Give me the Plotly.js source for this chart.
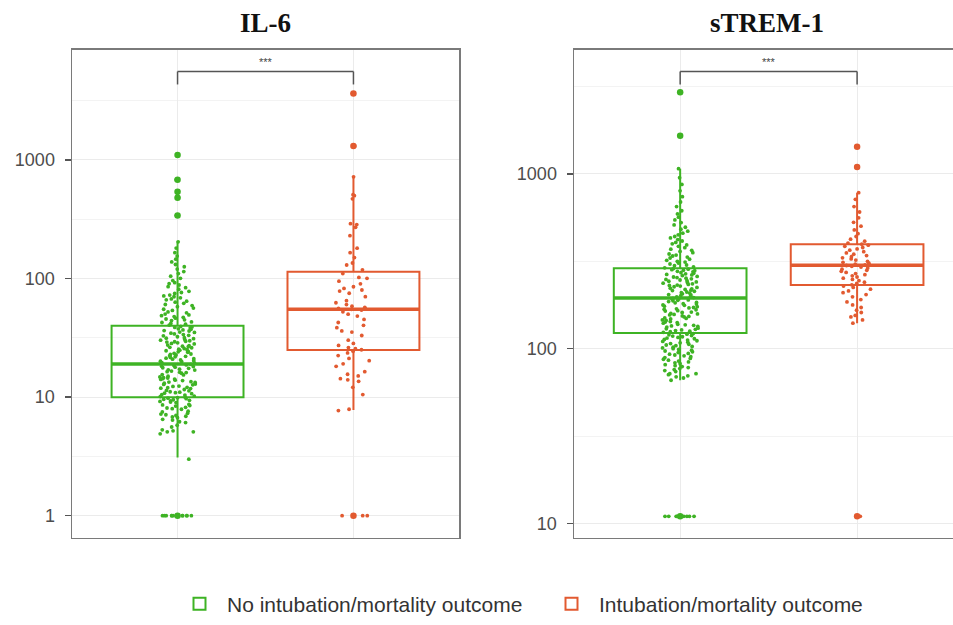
<!DOCTYPE html>
<html>
<head>
<meta charset="utf-8">
<script src="https://cdn.plot.ly/plotly-3.0.1.min.js"></script>
<style>html,body{margin:0;padding:0;background:#fff;}#chart{width:953px;height:625px;}</style>
</head>
<body>
<div id="chart"></div>
<script>
// ---------- data ----------
const groupNames = ["No intubation/mortality outcome", "Intubation/mortality outcome"];
const panelTitles = ["IL-6", "sTREM-1"];
const groupPos = [1, 2];

// IL-6 sample values
const il6No = [
 1,1,1,1,1,1,1,1,1,1,1,1,
 3.0,
 4.9,5.1,5.1,5.3,5.2,5.6,5.8,6.1,6.2,6.5,6.4,6.7,6.9,6.8,7.1,7.0,7.3,7.2,7.6,7.5,7.9,8.0,8.2,8.1,8.4,8.5,8.7,8.6,9.0,9.2,9.1,9.4,9.3,9.6,9.5,9.8,9.7,9.9,
 10.0,10.2,10.1,10.5,10.4,10.7,10.9,10.8,11.1,11.0,11.3,11.6,11.4,11.8,11.9,12.1,12.0,12.4,12.3,12.7,12.9,12.8,13.1,13.3,13.5,13.4,13.8,13.9,14.1,14.3,14.2,14.5,14.8,14.6,15.0,15.4,15.5,15.9,16.1,16.2,16.4,16.6,16.9,17.0,17.2,17.5,17.7,17.9,18.1,18.2,18.5,18.7,18.9,
 19.3,19.5,19.9,20.1,20.3,20.6,20.9,21.1,21.3,21.6,21.9,22.1,22.3,22.7,22.9,23.1,23.4,23.9,24.1,24.3,24.6,24.9,25.1,25.4,25.7,26.1,26.3,26.6,26.9,27.2,27.5,28.1,28.4,28.7,29.1,29.3,29.6,29.9,30.2,30.6,31.1,31.4,31.7,32.3,32.9,33.2,33.7,34.1,34.6,35.1,35.4,36.1,36.4,36.9,37.3,37.7,38.3,38.7,39.1,39.5,
 40.5,41.2,41.8,42.6,43.1,44.2,44.9,45.6,46.3,47.1,47.8,48.6,49.3,50.2,51.4,52.3,53.8,55.1,56.4,57.9,59.2,60.4,61.8,63.2,64.5,66.1,67.3,68.8,70.2,71.4,72.6,74.8,76.3,78.1,81.2,83.7,85.4,88.2,90.6,92.3,96.1,100.5,104.8,110.2,114.6,120.3,125.8,131.4,138.2,145.6,154.8,165.3,180.6,204.0,
 340,480,500,545,680,1100
];
const il6Yes = [
 1,1,1,
 7.7,7.9,10.5,12.1,13.6,14.0,14.3,15.1,15.6,16.4,18.2,19.1,20.3,21.2,22.4,23.6,24.4,25.1,25.6,26.2,27.3,28.4,30.2,33.1,35.4,36.2,38.5,40.3,42.6,45.2,48.3,50.1,52.4,54.2,55.0,55.3,56.1,57.2,58.4,60.3,62.5,65.1,70.3,75.2,78.4,80.1,82.6,85.3,90.2,95.1,100.4,102.3,110.2,118.4,130.1,135.2,150.4,165.2,180.3,230.1,270.2,285.4,290.3,470.5,500.2,510.1,720.3,
 1310,3640
];

// sTREM-1 sample values
const strNo = [
 11,11,11,11,11,11,11,11,11,
 66,68,69,70,71,72,72,74,75,76,77,78,79,80,81,82,83,84,85,86,87,88,89,90,91,92,93,94,95,96,97,98,99,100,101,102,103,104,105,106,107,108,109,110,111,112,113,114,115,116,117,118,119,120,121,122,
 124,125,126,127,128,129,130,131,133,134,135,136,137,138,140,141,142,143,145,146,148,149,150,152,153,154,156,157,158,159,161,162,164,165,167,168,169,171,172,174,175,177,178,180,181,183,184,186,188,189,190,192,193,194,
 196,198,199,201,203,204,206,208,209,211,213,215,216,218,220,222,224,226,228,230,231,233,235,237,239,241,243,245,247,249,251,253,255,257,259,262,264,266,268,270,272,275,277,279,281,283,285,287,
 290,294,298,301,305,309,313,316,320,325,330,334,339,343,348,354,360,365,371,378,385,392,398,405,413,421,430,438,448,458,470,482,495,510,526,545,565,590,615,650,690,740,800,870,950,1070,
 1650,2930
];
const strYes = [
 11,
 140,146,152,155,161,166,172,178,185,191,198,204,209,214,219,224,228,232,236,240,245,249,253,257,261,265,269,273,277,281,285,289,293,296,299,301,304,308,312,316,321,326,331,336,341,347,353,359,366,372,379,385,391,396,402,412,423,438,455,478,502,528,560,605,650,715,780,
 1095,1430
];

// box statistics (q1, median, q3, lower whisker end, upper whisker end)
const il6Stats = {q1: [10, 25], median: [19, 55], q3: [40, 114], lowerfence: [3.1, 7.8], upperfence: [205, 715]};
const strStats = {q1: [123, 231], median: [195, 300], q3: [288, 395], lowerfence: [66, 140], upperfence: [1070, 780]};

// outliers (drawn as larger dots on the group centre)
const il6Out = [[1, 340, 480, 540, 680, 1100], [1, 1310, 3640]];
const strOut = [[11, 1650, 2930], [11, 1095, 1430]];

const colors = ["rgb(62,179,36)", "rgb(226,90,48)"];
const boxWidth = 0.75;

// ---------- traces ----------
const traces = [];
function addPanel(samples, stats, outs, xa, ya, legend) {
  for (let g = 0; g < 2; g++) {
    const pos = groupPos[g];
    traces.push({
      type: "box", xaxis: xa, yaxis: ya, name: groupNames[g],
      x: [pos], q1: [stats.q1[g]], median: [stats.median[g]], q3: [stats.q3[g]],
      lowerfence: [stats.lowerfence[g]], upperfence: [stats.upperfence[g]],
      width: boxWidth, whiskerwidth: 0, boxpoints: false,
      line: {color: colors[g], width: 2}, fillcolor: "rgba(0,0,0,0)",
      showlegend: legend, legendgroup: "g" + g, hoverinfo: "skip"
    });
    traces.push({
      type: "scatter", mode: "lines", xaxis: xa, yaxis: ya,
      x: [pos - boxWidth / 2, pos + boxWidth / 2],
      y: [stats.median[g], stats.median[g]],
      line: {color: colors[g], width: 3.5}, showlegend: false, hoverinfo: "skip"
    });
    traces.push({
      type: "scatter", mode: "markers", xaxis: xa, yaxis: ya,
      x: outs[g].map(() => pos), y: outs[g],
      marker: {color: colors[g], size: 6.5}, showlegend: false, hoverinfo: "skip"
    });
    traces.push({
      type: "box", xaxis: xa, yaxis: ya, name: groupNames[g],
      x0: pos, y: samples[g], width: boxWidth,
      boxpoints: "all", jitter: 0.27, pointpos: 0,
      marker: {color: colors[g], size: 3.8},
      line: {color: "rgba(0,0,0,0)", width: 0}, fillcolor: "rgba(0,0,0,0)",
      showlegend: false, hoverinfo: "skip"
    });
  }
}
addPanel([il6No, il6Yes], il6Stats, il6Out, "x", "y", true);
addPanel([strNo, strYes], strStats, strOut, "x2", "y2", false);

// ---------- layout ----------
const W = 953, H = 625;
const py = p => 1 - p / H;
const px = p => p / W;
const gridCol = "#ebebeb", minorCol = "#f3f3f3", borderCol = "#7a7a7a";
const tickFont = {family: "Liberation Sans, Arial, sans-serif", size: 18, color: "#4d4d4d"};
const yDomain = [py(541), py(50)];

function xAxis(domain, range, mirror, anchor) {
  return {domain, range, anchor, tickvals: groupPos, showticklabels: false, ticks: "",
    showgrid: true, gridcolor: gridCol, gridwidth: 1, zeroline: false,
    showline: true, mirror, linecolor: borderCol, linewidth: 1.5, fixedrange: true};
}
function yAxis(domain, range, vals, mirror, anchor, minorVals) {
  return {domain, range, anchor, type: "log", tickvals: vals, ticktext: vals.map(String),
    ticks: "outside", ticklen: 6, tickwidth: 1.5, tickcolor: "#555", tickfont: tickFont,
    ticklabelstandoff: 6,
    showgrid: true, gridcolor: gridCol, gridwidth: 1, zeroline: false,
    showline: true, mirror, linecolor: borderCol, linewidth: 1.5,
    minor: {tickvals: minorVals, showgrid: true, gridcolor: minorCol, gridwidth: 1, ticks: ""},
    fixedrange: true};
}

const bracketCol = "#555";
function bracket(xref) {
  const top = py(72), bot = py(85);
  const s = {type: "line", xref, yref: "paper", line: {color: bracketCol, width: 1.5}};
  return [
    Object.assign({}, s, {x0: 1, x1: 1, y0: bot, y1: top}),
    Object.assign({}, s, {x0: 1, x1: 2, y0: top, y1: top}),
    Object.assign({}, s, {x0: 2, x1: 2, y0: bot, y1: top})
  ];
}

const titleFont = {family: "Liberation Serif, Times New Roman, serif", size: 27, color: "#111"};
const starFont = {size: 11, color: "#444", family: "Liberation Sans, Arial"};
const layout = {
  width: W, height: H, margin: {l: 0, r: 0, t: 0, b: 0},
  paper_bgcolor: "#fff", plot_bgcolor: "#fff",
  showlegend: true,
  legend: {orientation: "h", x: px(172), xanchor: "left", y: py(608), yanchor: "middle",
    font: {family: "Liberation Sans, Arial, sans-serif", size: 21, color: "#333"},
    itemwidth: 45, entrywidth: 312, traceorder: "normal"},
  xaxis: xAxis([px(72), px(459)], [0.4, 2.6], true, "y"),
  yaxis: yAxis(yDomain, [-0.184, 3.93], [1, 10, 100, 1000], true, "x", [3.162, 31.62, 316.2, 3162]),
  xaxis2: xAxis([px(574), 1], [0.4, 2.542], true, "y2"),
  yaxis2: yAxis(yDomain, [0.92, 3.71], [10, 100, 1000], false, "x2", [31.62, 316.2, 3162]),
  shapes: bracket("x").concat(bracket("x2")),
  annotations: [
    {text: "<b>" + panelTitles[0] + "</b>", xref: "paper", yref: "paper", x: px(265), y: py(23), xanchor: "center", yanchor: "middle", showarrow: false, font: titleFont},
    {text: "<b>" + panelTitles[1] + "</b>", xref: "paper", yref: "paper", x: px(767), y: py(23), xanchor: "center", yanchor: "middle", showarrow: false, font: titleFont},
    {text: "***", xref: "x", yref: "paper", x: 1.5, y: py(62), xanchor: "center", yanchor: "middle", showarrow: false, font: starFont},
    {text: "***", xref: "x2", yref: "paper", x: 1.5, y: py(62), xanchor: "center", yanchor: "middle", showarrow: false, font: starFont}
  ]
};

Plotly.newPlot("chart", traces, layout, {staticPlot: true, displayModeBar: false});
</script>
</body>
</html>
